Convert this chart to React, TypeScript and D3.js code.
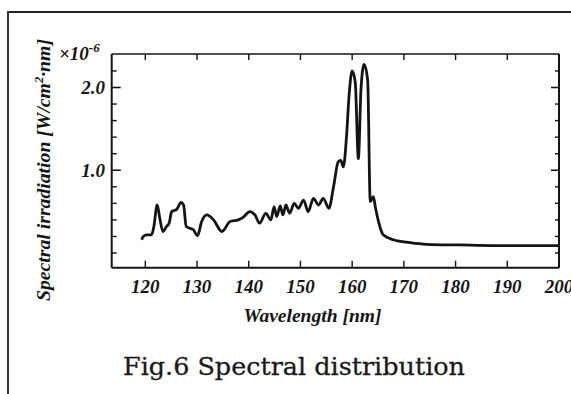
import React from "react";
import * as d3 from "d3";

// wavelength [nm] and spectral irradiation [x1e-6 W/cm2·nm]
const wavelength = [
  119.3, 119.6, 120.3, 121.2, 121.6, 122.3, 122.8, 123.4, 124.1, 124.6, 125.1, 126.1, 126.9, 127.4,
  127.9, 128.6, 129.3, 130.1, 130.9, 131.9, 133.2, 134.8, 136.4, 138.0, 138.9, 140.2, 141.2, 142.1,
  143.3, 144.3, 144.9, 145.4, 146.1, 146.6, 147.2, 147.9, 148.8, 149.6, 150.6, 151.5, 152.5, 153.5,
  154.4, 155.5, 156.4, 157.3, 157.8, 158.3, 158.9, 159.4, 160.0, 160.6, 161.2, 161.7, 162.3, 163.0,
  163.5, 164.1, 164.5, 165.1, 166.0, 168.0, 171.2, 174.4, 180.9, 187.3, 197.6, 200.0,
];
const irradiation = [
  0.16, 0.2, 0.22, 0.22, 0.3, 0.58, 0.42, 0.26, 0.32, 0.36, 0.5, 0.53, 0.61, 0.58,
  0.32, 0.3, 0.28, 0.21, 0.38, 0.46, 0.4, 0.26, 0.38, 0.4, 0.43, 0.5, 0.46, 0.36,
  0.48, 0.4, 0.56, 0.44, 0.57, 0.46, 0.58, 0.48, 0.6, 0.54, 0.64, 0.5, 0.66, 0.58,
  0.66, 0.54, 0.8, 1.1, 1.12, 1.04, 1.4, 1.9, 2.2, 2.06, 1.14, 1.97, 2.28, 2.09,
  0.62, 0.68, 0.55, 0.38, 0.22, 0.16, 0.125, 0.105, 0.097, 0.09, 0.088, 0.088,
];
const xTicks = [120, 130, 140, 150, 160, 170, 180, 190, 200];
const yMajor = [1.0, 2.0];
const yMinor = [0, 0.2, 0.4, 0.6, 0.8, 1.2, 1.4, 1.6, 1.8, 2.2];

const W = 571;
const H = 394;
const left = 111.7, right = 559, top = 54, bottom = 267.7;

const labelFont = "'Liberation Serif', 'Times New Roman', serif";

const App = () => {
  const x = d3.scaleLinear().domain([113.5, 200]).range([left, right]);
  const y = d3.scaleLinear().domain([0, 2.0]).range([253, 87.5]);

  const pts: [number, number][] = wavelength.map((w, i) => [w, irradiation[i]]);
  const line = d3.line<[number, number]>()
    .x(d => x(d[0]))
    .y(d => y(d[1]))
    .curve(d3.curveMonotoneX);

  const ink = "#141414";

  return (
    <svg width={W} height={H} style={{ position: "absolute", left: 0, top: 0 }}>
      <rect width={W} height={H} fill="#fff" />
      {/* page frame */}
      <line x1={8} y1={12} x2={W} y2={12} stroke="#222" strokeWidth={2.2} />
      <line x1={8} y1={11} x2={8} y2={H} stroke="#333" strokeWidth={2} />

      {/* plot box */}
      <line x1={left} y1={top} x2={right} y2={top} stroke={ink} strokeWidth={1.6} />
      <line x1={left} y1={bottom} x2={right} y2={bottom} stroke={ink} strokeWidth={2} />
      <line x1={left} y1={top} x2={left} y2={bottom} stroke={ink} strokeWidth={2} />
      <line x1={right} y1={top} x2={right} y2={bottom} stroke={ink} strokeWidth={2} />

      {/* x ticks */}
      {xTicks.map(t => (
        <g key={"x" + t}>
          <line x1={x(t)} x2={x(t)} y1={bottom} y2={bottom - 7} stroke={ink} strokeWidth={1.4} />
          <line x1={x(t)} x2={x(t)} y1={top} y2={top + 6} stroke={ink} strokeWidth={1.4} />
          <text x={x(t)} y={293} textAnchor="middle" fontFamily={labelFont} fontWeight="bold"
            fontStyle="italic" fontSize={19} fill={ink}>{t}</text>
        </g>
      ))}

      {/* y ticks */}
      {yMinor.map(t => (
        <g key={"ym" + t}>
          <line x1={left} x2={left + 5} y1={y(t)} y2={y(t)} stroke={ink} strokeWidth={1.4} />
          <line x1={right} x2={right - 4} y1={y(t)} y2={y(t)} stroke={ink} strokeWidth={1.4} />
        </g>
      ))}
      {yMajor.map(t => (
        <g key={"yM" + t}>
          <line x1={left} x2={left + 9} y1={y(t)} y2={y(t)} stroke={ink} strokeWidth={1.6} />
          <line x1={right} x2={right - 8} y1={y(t)} y2={y(t)} stroke={ink} strokeWidth={1.6} />
          <text x={105} y={y(t) + 6.5} textAnchor="end" fontFamily={labelFont} fontWeight="bold"
            fontStyle="italic" fontSize={19} fill={ink}>{t.toFixed(1)}</text>
        </g>
      ))}

      {/* exponent */}
      <text x={59} y={60} fontFamily={labelFont} fontWeight="bold" fontStyle="italic" fontSize={19} fill={ink}>
        ×10<tspan dy={-8} fontSize={13}>-6</tspan>
      </text>

      {/* spectrum */}
      <path d={line(pts) ?? ""} fill="none" stroke={ink} strokeWidth={2.8} strokeLinejoin="round" />

      {/* axis titles */}
      <text x={312.5} y={322} textAnchor="middle" fontFamily={labelFont} fontWeight="bold"
        fontStyle="italic" fontSize={19} textLength={138} lengthAdjust="spacingAndGlyphs"
        fill={ink}>Wavelength [nm]</text>
      <text transform="translate(50,170) rotate(-90)" textAnchor="middle" fontFamily={labelFont}
        fontWeight="bold" fontStyle="italic" fontSize={19} textLength={262} lengthAdjust="spacingAndGlyphs"
        fill={ink}>
        Spectral irradiation [W/cm<tspan dy={-7} fontSize={12}>2</tspan><tspan dy={7}>·nm]</tspan>
      </text>

      {/* caption */}
      <text x={294} y={375} textAnchor="middle" fontFamily="'DejaVu Serif', serif" fontSize={25}
        textLength={342} lengthAdjust="spacingAndGlyphs" stroke="#1a1a1a" strokeWidth={0.3}
        fill="#1a1a1a">Fig.6 Spectral distribution</text>
    </svg>
  );
};

export default App;
